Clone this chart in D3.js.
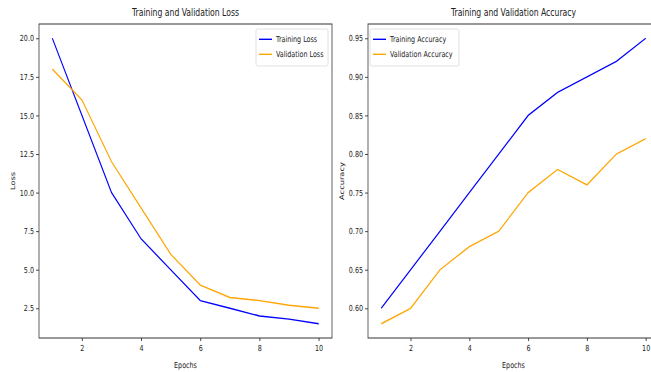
<!DOCTYPE html>
<html>
<head>
<meta charset="utf-8">
<script src="https://cdn.jsdelivr.net/npm/d3@7"></script>
<style>
  body { margin: 0; background: #fff; }
  svg { display: block; }
  text { font-family: "DejaVu Sans", sans-serif; fill: #222; }
</style>
</head>
<body>
<div id="canvas"></div>
<script>
"use strict"

/* Data */
let epochs = [1, 2, 3, 4, 5, 6, 7, 8, 9, 10];
let trainLoss = [20, 15, 10, 7, 5, 3, 2.5, 2, 1.8, 1.5];
let valLoss = [18, 16, 12, 9, 6, 4, 3.2, 3, 2.7, 2.5];
let trainAcc = [0.60, 0.65, 0.70, 0.75, 0.80, 0.85, 0.88, 0.90, 0.92, 0.95];
let valAcc = [0.58, 0.60, 0.65, 0.68, 0.70, 0.75, 0.78, 0.76, 0.80, 0.82];
let xTicks = [2, 4, 6, 8, 10];
let lossTicks = [2.5, 5, 7.5, 10, 12.5, 15, 17.5, 20];
let accTicks = [0.60, 0.65, 0.70, 0.75, 0.80, 0.85, 0.90, 0.95];

/* Drawing config: picture is squeezed horizontally */
let svgWidth = 651;
let svgHeight = 372;
let sx = 0.77;
let fontSize = 8.3;

let svg = d3.select("#canvas")
    .append("svg")
    .attr("width", svgWidth)
    .attr("height", svgHeight)
    .attr("viewBox", "0 0 " + (svgWidth / sx) + " " + svgHeight)
    .attr("preserveAspectRatio", "none");

function px(x) { return x / sx; }

function drawPanel(p) {
    let g = svg.append("g");
    let x = d3.scaleLinear().domain([0.55, 10.45]).range([px(p.left), px(p.right)]);
    let y = d3.scaleLinear().domain(p.yDomain).range([338, 24]);

    /* axes */
    let xAxis = g.append("g")
        .attr("transform", "translate(0,338)")
        .call(d3.axisBottom(x).tickValues(xTicks).tickSize(3).tickSizeOuter(0).tickPadding(4));
    let yAxis = g.append("g")
        .attr("transform", "translate(" + px(p.left) + ",0)")
        .call(d3.axisLeft(y).tickValues(p.yTicks).tickFormat(d3.format(p.fmt))
            .tickSize(px(3)).tickSizeOuter(0).tickPadding(px(2)));
    [xAxis, yAxis].forEach(function (a) {
        a.select(".domain").remove();
        a.selectAll("line").attr("stroke", "#333");
        a.selectAll("text").attr("font-size", fontSize).attr("fill", "#222")
            .attr("font-family", "DejaVu Sans");
    });

    /* lines */
    let line = d3.line()
        .x(function (d, i) { return x(epochs[i]); })
        .y(function (d) { return y(d); });
    g.append("path").datum(p.train)
        .attr("d", line).attr("fill", "none")
        .attr("stroke", "blue").attr("stroke-width", 1.4);
    g.append("path").datum(p.val)
        .attr("d", line).attr("fill", "none")
        .attr("stroke", "orange").attr("stroke-width", 1.4);

    /* frame */
    g.append("rect")
        .attr("x", px(p.left)).attr("y", 24)
        .attr("width", px(p.right - p.left)).attr("height", 314)
        .attr("fill", "none").attr("stroke", "#333").attr("stroke-width", 1);

    /* title and labels */
    let cx = px((p.left + p.right) / 2);
    g.append("text")
        .attr("x", cx).attr("y", 16.5)
        .attr("text-anchor", "middle").attr("font-size", 10)
        .text(p.title);
    g.append("text")
        .attr("x", cx).attr("y", 368)
        .attr("text-anchor", "middle").attr("font-size", fontSize)
        .text("Epochs");
    g.append("text")
        .attr("transform", "translate(" + px(p.yLabelX) + ",181) rotate(-90)")
        .attr("text-anchor", "middle").attr("font-size", fontSize)
        .text(p.yLabel);

    /* legend */
    let lg = g.append("g");
    lg.append("rect")
        .attr("x", px(p.legX)).attr("y", 29)
        .attr("width", px(p.legW)).attr("height", 37)
        .attr("rx", 2).attr("fill", "#fff")
        .attr("stroke", "#ddd").attr("stroke-width", 1);
    let names = [p.trainName, p.valName];
    let colors = ["blue", "orange"];
    for (let i = 0; i < 2; i++) {
        lg.append("line")
            .attr("x1", px(p.legX + 3)).attr("x2", px(p.legX + 16))
            .attr("y1", 39.3 + i * 15).attr("y2", 39.3 + i * 15)
            .attr("stroke", colors[i]).attr("stroke-width", 1.4);
        lg.append("text")
            .attr("x", px(p.legX + 20)).attr("y", 42.3 + i * 15)
            .attr("font-size", fontSize)
            .text(names[i]);
    }
}

drawPanel({
    left: 39, right: 332,
    yDomain: [0.575, 20.925], yTicks: lossTicks, fmt: ".1f",
    train: trainLoss, val: valLoss,
    title: "Training and Validation Loss", yLabel: "Loss", yLabelX: 15,
    trainName: "Training Loss", valName: "Validation Loss",
    legX: 256, legW: 72
});

drawPanel({
    left: 368, right: 659,
    yDomain: [0.5615, 0.9685], yTicks: accTicks, fmt: ".2f",
    train: trainAcc, val: valAcc,
    title: "Training and Validation Accuracy", yLabel: "Accuracy", yLabelX: 344,
    trainName: "Training Accuracy", valName: "Validation Accuracy",
    legX: 370, legW: 89
});
</script>
</body>
</html>
